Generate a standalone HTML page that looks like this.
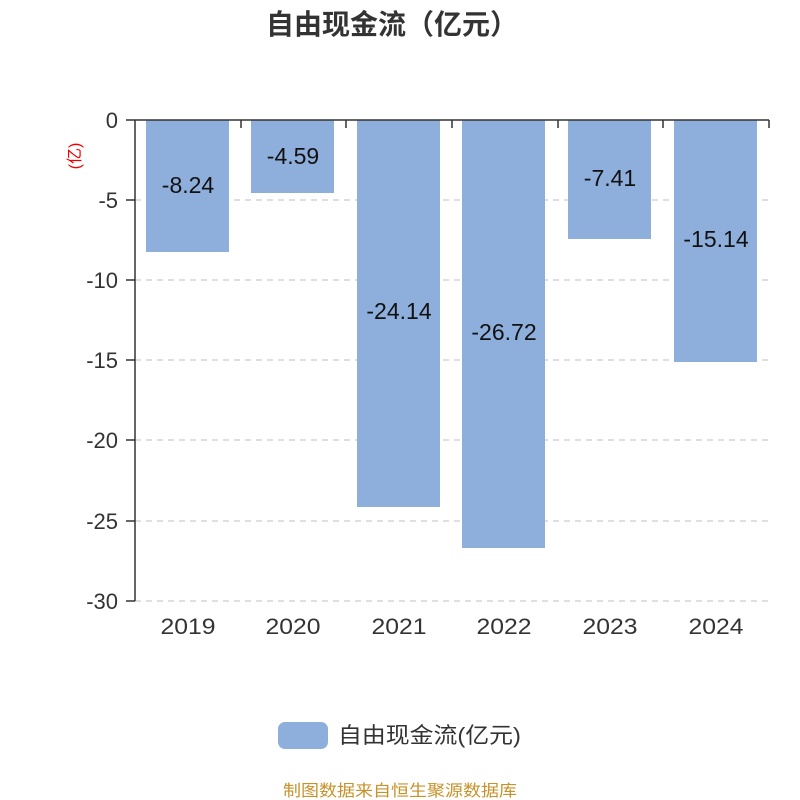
<!DOCTYPE html>
<html><head><meta charset="utf-8"><style>
html,body{margin:0;padding:0;background:#fff;}
svg{display:block;}
text{font-family:"Liberation Sans","Noto Sans CJK SC",sans-serif;}
</style></head><body>
<svg width="800" height="800" viewBox="0 0 800 800" xmlns="http://www.w3.org/2000/svg">
<text x="266" y="34" font-size="28" font-weight="bold" fill="#333" textLength="252" lengthAdjust="spacingAndGlyphs">自由现金流（亿元）</text>
<text transform="translate(80,156) rotate(-90)" font-size="16" fill="#e00" text-anchor="middle">(亿)</text>
<g stroke="#ccc" stroke-width="1.2" stroke-dasharray="6,5">
<line x1="135" y1="200" x2="769" y2="200"/>
<line x1="135" y1="280" x2="769" y2="280"/>
<line x1="135" y1="360" x2="769" y2="360"/>
<line x1="135" y1="440" x2="769" y2="440"/>
<line x1="135" y1="521" x2="769" y2="521"/>
<line x1="135" y1="601" x2="769" y2="601"/>
</g>
<g fill="#8eaedb">
<rect x="146" y="120" width="83" height="132"/>
<rect x="251" y="120" width="83" height="73"/>
<rect x="357" y="120" width="83" height="387"/>
<rect x="462" y="120" width="83" height="428"/>
<rect x="568" y="120" width="83" height="119"/>
<rect x="674" y="120" width="83" height="242"/>
</g>
<g stroke="#333" stroke-width="1.5">
<line x1="135" y1="120" x2="135" y2="601"/>
<line x1="135" y1="120" x2="769" y2="120"/>
<line x1="126" y1="120" x2="135" y2="120"/>
<line x1="126" y1="200" x2="135" y2="200"/>
<line x1="126" y1="280" x2="135" y2="280"/>
<line x1="126" y1="360" x2="135" y2="360"/>
<line x1="126" y1="440" x2="135" y2="440"/>
<line x1="126" y1="521" x2="135" y2="521"/>
<line x1="126" y1="601" x2="135" y2="601"/>
<line x1="241" y1="120" x2="241" y2="128"/>
<line x1="346" y1="120" x2="346" y2="128"/>
<line x1="452" y1="120" x2="452" y2="128"/>
<line x1="558" y1="120" x2="558" y2="128"/>
<line x1="663" y1="120" x2="663" y2="128"/>
<line x1="769" y1="120" x2="769" y2="128"/>
</g>
<g font-size="22" fill="#333" text-anchor="end">
<text x="118" y="128">0</text>
<text x="118" y="208">-5</text>
<text x="118" y="288">-10</text>
<text x="118" y="368">-15</text>
<text x="118" y="448">-20</text>
<text x="118" y="529">-25</text>
<text x="118" y="609">-30</text>
</g>
<g font-size="22" fill="#333" text-anchor="middle">
<text x="188" y="634" textLength="55" lengthAdjust="spacingAndGlyphs">2019</text>
<text x="293" y="634" textLength="55" lengthAdjust="spacingAndGlyphs">2020</text>
<text x="399" y="634" textLength="55" lengthAdjust="spacingAndGlyphs">2021</text>
<text x="504" y="634" textLength="55" lengthAdjust="spacingAndGlyphs">2022</text>
<text x="610" y="634" textLength="55" lengthAdjust="spacingAndGlyphs">2023</text>
<text x="716" y="634" textLength="55" lengthAdjust="spacingAndGlyphs">2024</text>
</g>
<g font-size="23" fill="#111" text-anchor="middle">
<text x="188" y="193">-8.24</text>
<text x="293" y="164">-4.59</text>
<text x="399" y="319">-24.14</text>
<text x="504" y="340">-26.72</text>
<text x="610" y="186">-7.41</text>
<text x="716" y="247">-15.14</text>
</g>
<rect x="278" y="722" width="50" height="27" rx="7" fill="#8eaedb"/>
<text x="338" y="743" font-size="22" fill="#333" textLength="183" lengthAdjust="spacingAndGlyphs">自由现金流(亿元)</text>
<text x="283" y="796" font-size="16" fill="#c8922a" textLength="234" lengthAdjust="spacingAndGlyphs">制图数据来自恒生聚源数据库</text>
</svg>
</body></html>
